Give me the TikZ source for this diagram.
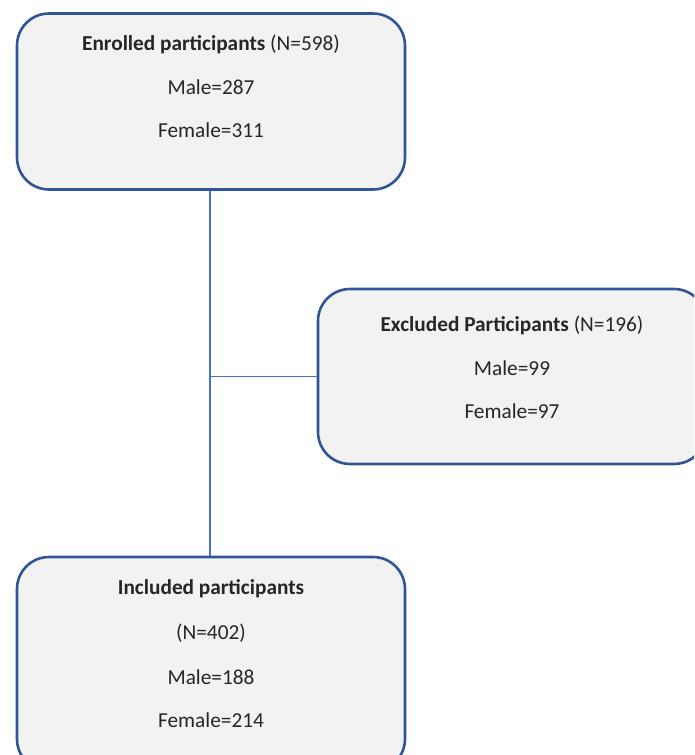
\documentclass[tikz,border=0pt]{standalone}
\usepackage{fontspec}
\setmainfont{Carlito}
\definecolor{boxline}{HTML}{2F5597}
\definecolor{conline}{HTML}{4472C4}
\definecolor{boxfill}{HTML}{F2F2F2}
\definecolor{txt}{HTML}{262626}
\begin{document}
\begin{tikzpicture}[x=1pt,y=-1pt,
  flowbox/.style={draw=boxline,line width=2.6pt,fill=boxfill,rounded corners=32pt,inner sep=0pt},
  label/.style={text=txt,font=\fontsize{21.3}{25}\selectfont,inner sep=0pt,anchor=center},
  conn/.style={draw=conline,line width=1.7pt}]
\useasboundingbox (0,0) rectangle (694,755);
\clip (0,0) rectangle (694,755);
% boxes
\node[flowbox,minimum width=388pt,minimum height=176pt] (enr) at (211,101.5) {};
\node[flowbox,minimum width=388pt,minimum height=175pt] (exc) at (512,376.5) {};
\node[flowbox,minimum width=388pt,minimum height=214pt] (inc) at (211,664) {};
% texts
\node[label] (enrT) at (211,44) {\textbf{Enrolled participants} (N=598)};
\node[label] (enrM) at (211,87) {Male=287};
\node[label] (enrF) at (211,130) {Female=311};
\node[label] (excT) at (512,325) {\textbf{Excluded Participants} (N=196)};
\node[label] (excM) at (512,368) {Male=99};
\node[label] (excF) at (512,411) {Female=97};
\node[label] (incT) at (211,589) {\textbf{Included participants}};
\node[label] (incN) at (211,633) {(N=402)};
\node[label] (incM) at (211,677) {Male=188};
\node[label] (incF) at (211,720) {Female=214};
% connectors
\coordinate (j) at (210,376.5);
\draw[conn] (enr.south -| j) -- (inc.north -| j);
\draw[conn] (j) -- (exc.west);
\end{tikzpicture}
\end{document}
